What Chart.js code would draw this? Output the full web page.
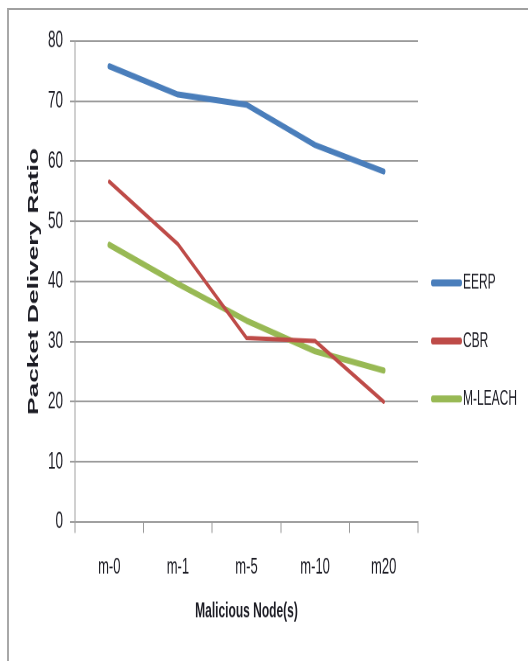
<!DOCTYPE html>
<html><head><meta charset="utf-8">
<script src="https://cdn.jsdelivr.net/npm/chart.js@4.4.0/dist/chart.umd.min.js"></script>
<style>
html,body{margin:0;padding:0;background:#fff;overflow:hidden;width:528px;height:661px;}
#frame{position:absolute;left:7px;top:8px;width:600px;height:700px;border-top:2px solid #a0a0a0;border-left:2px solid #a8a8a8;}
#wrap{position:absolute;left:0;top:0;width:528px;height:378px;transform-origin:0 0;transform:scaleY(1.748677);}
</style></head><body>
<div id="frame"></div>
<div id="wrap"><canvas id="c" width="528" height="378"></canvas></div>
<script>
const categories = ['m-0', 'm-1', 'm-5', 'm-10', 'm20'];
const eerp = [75.8, 71.1, 69.4, 62.7, 58.3];
const cbr = [56.6, 46.2, 30.6, 30.1, 20.0];
const mleach = [46.1, 39.6, 33.5, 28.4, 25.2];
const seriesNames = ['EERP', 'CBR', 'M-LEACH'];
const yTitle = 'Packet Delivery Ratio';
const xTitle = 'Malicious Node(s)';

const FONT = "'Liberation Sans', Arial, sans-serif";
const TXT = '#1c1c24';

const sideLegend = {
  id: 'sideLegend',
  afterDraw(chart, args, o) {
    const ctx = chart.ctx, ca = chart.chartArea;
    ctx.save();
    chart.data.datasets.forEach((ds, i) => {
      const y = ca.top + o.firstOffset + i * o.spacing;
      ctx.strokeStyle = ds.borderColor;
      ctx.lineWidth = o.swatchWidth;
      ctx.lineCap = 'round';
      ctx.beginPath(); ctx.moveTo(o.x0, y); ctx.lineTo(o.x1, y); ctx.stroke();
      ctx.fillStyle = TXT;
      ctx.font = o.font;
      ctx.textBaseline = 'middle';
      ctx.textAlign = 'left';
      ctx.fillText(ds.label, o.textX, y);
    });
    ctx.restore();
  }
};

new Chart(document.getElementById('c'), {
  type: 'line',
  data: {
    labels: categories,
    datasets: [
      { label: seriesNames[0], data: eerp, borderColor: '#4a7ebb', borderWidth: 3.5 },
      { label: seriesNames[1], data: cbr, borderColor: '#be4b48', borderWidth: 2.5 },
      { label: seriesNames[2], data: mleach, borderColor: '#98b954', borderWidth: 3.6 }
    ].map(d => Object.assign(d, { pointRadius: 0, pointHoverRadius: 0, tension: 0, fill: false,
      borderJoinStyle: 'round', borderCapStyle: 'round', backgroundColor: d.borderColor }))
  },
  options: {
    responsive: false,
    animation: false,
    devicePixelRatio: 2,
    layout: { padding: { top: 23.45, right: 110, bottom: 0, left: 8 } },
    plugins: {
      legend: { display: false },
      tooltip: { enabled: false },
      sideLegend: { firstOffset: 138.3, spacing: 33.2, x0: 433, x1: 460, textX: 463,
        swatchWidth: 4, font: '12px ' + FONT }
    },
    scales: {
      x: {
        offset: true,
        afterFit: s => { s.height = 79.5; },
        grid: { offset: true, drawOnChartArea: false, drawTicks: true, tickLength: 6.3, color: '#9a9a9a' },
        border: { display: true, color: '#9a9a9a', width: 1 },
        ticks: { color: TXT, font: { family: FONT, size: 13 }, padding: 12, maxRotation: 0 },
        title: { display: true, text: xTitle, color: TXT, font: { family: FONT, size: 12, weight: 'bold' },
          padding: { top: 0, bottom: 21 } }
      },
      y: {
        min: 0, max: 80,
        afterFit: s => { s.width = 67; },
        grid: { color: '#9a9a9a', lineWidth: 1, tickLength: 5 },
        border: { display: true, color: '#a0a0a0', width: 1 },
        ticks: { stepSize: 10, color: TXT, font: { family: FONT, size: 13.5 }, padding: 7 },
        title: { display: true, text: yTitle, color: TXT, font: { family: FONT, size: 15, weight: 'bold' },
          padding: { top: 17, bottom: 0 } }
      }
    }
  },
  plugins: [sideLegend]
});
</script>
</body></html>
